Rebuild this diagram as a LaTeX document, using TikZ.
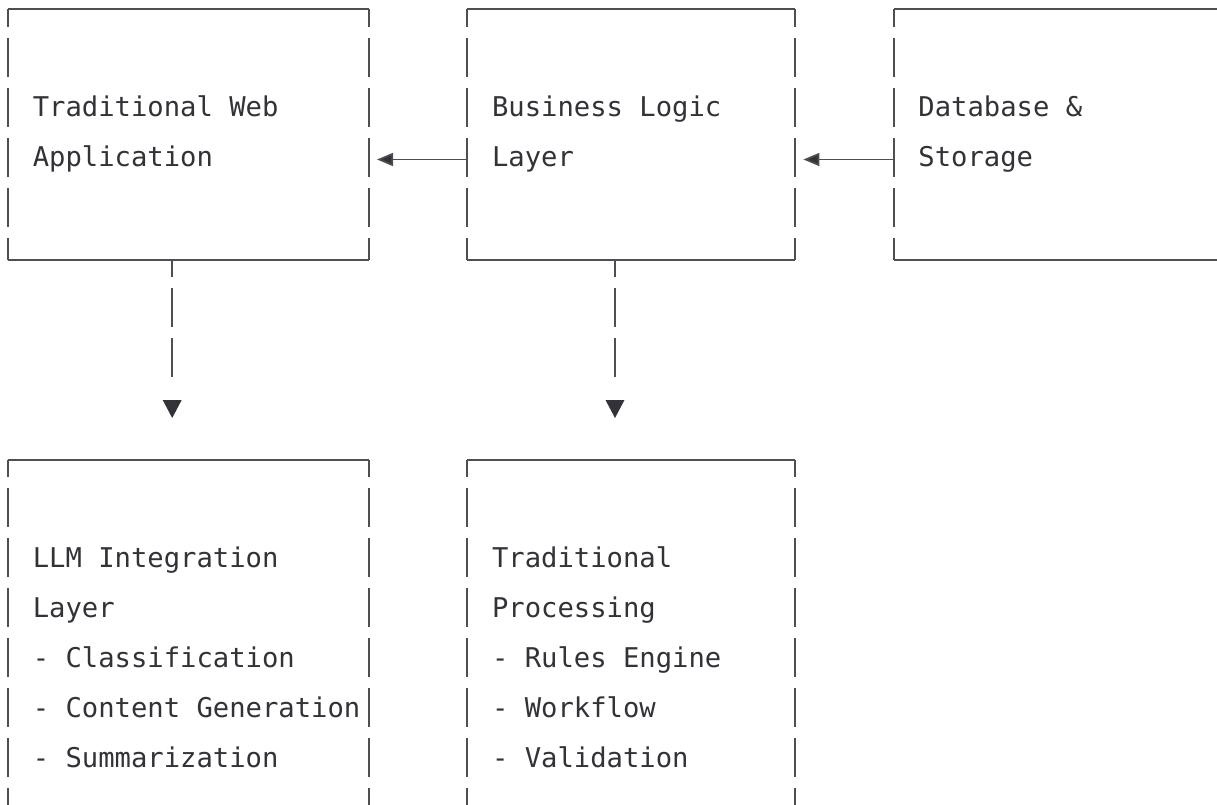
\documentclass[tikz,border=0pt]{standalone}
\usepackage{fontspec}
\setmonofont{DejaVu Sans Mono}
\usetikzlibrary{arrows.meta,calc}
\definecolor{linegray}{RGB}{78,78,84}
\definecolor{inkgray}{RGB}{50,50,56}
\tikzset{
  boxframe/.style={draw=none,inner sep=0pt,outer sep=0pt},
  hline/.style={draw=linegray,line width=2pt},
  vside/.style={draw=linegray,line width=2pt,dash pattern=on 39pt off 11pt,dash phase=21.5pt},
  txt/.style={anchor=base west,inner sep=0pt,outer sep=0pt,text=inkgray,
    font=\fontsize{27.2}{50}\selectfont\ttfamily},
  hconn/.style={draw=linegray,line width=1.7pt,shorten >=8pt,
    -{Triangle[length=16pt,width=13pt,fill=inkgray]}},
  vconn/.style={draw=linegray,line width=2pt,dash pattern=on 39pt off 11pt,dash phase=21.5pt},
  tri/.style={fill=inkgray}
}
\newcommand{\frameit}[1]{%
  \draw[hline] (#1.north west) -- (#1.north east);
  \draw[hline] (#1.south west) -- (#1.south east);
  \draw[vside] (#1.north west) -- (#1.south west);
  \draw[vside] (#1.north east) -- (#1.south east);
}
\begin{document}
\begin{tikzpicture}[x=1pt,y=-1pt]
\useasboundingbox (0,0) rectangle (1217,805);
\clip (0,0) rectangle (1217,805);
\fill[white] (0,0) rectangle (1217,805);
% boxes
\node[boxframe,minimum width=360.8pt,minimum height=250pt] (web) at (188.6,134.5) {};
\node[boxframe,minimum width=328pt,minimum height=250pt] (logic) at (631.4,134.5) {};
\node[boxframe,minimum width=356.2pt,minimum height=250pt] (store) at (1071.9,134.5) {};
\node[boxframe,minimum width=360.8pt,minimum height=380.5pt] (llm) at (188.6,649.75) {};
\node[boxframe,minimum width=328pt,minimum height=380.5pt] (proc) at (631.4,649.75) {};
\frameit{web}
\frameit{logic}
\frameit{store}
\frameit{llm}
\frameit{proc}
% texts
\node[txt] (web1) at (32.8,117) {Traditional Web};
\node[txt] (web2) at (32.8,167) {Application};
\node[txt] (log1) at (492,117) {Business Logic};
\node[txt] (log2) at (492,167) {Layer};
\node[txt] (sto1) at (918.4,117) {Database \&};
\node[txt] (sto2) at (918.4,167) {Storage};
\node[txt] (llm1) at (32.8,567) {LLM Integration};
\node[txt] (llm2) at (32.8,617) {Layer};
\node[txt] (llm3) at (32.8,667) {- Classification};
\node[txt] (llm4) at (32.8,717) {- Content Generation};
\node[txt] (llm5) at (32.8,767) {- Summarization};
\node[txt] (pro1) at (492,567) {Traditional};
\node[txt] (pro2) at (492,617) {Processing};
\node[txt] (pro3) at (492,667) {- Rules Engine};
\node[txt] (pro4) at (492,717) {- Workflow};
\node[txt] (pro5) at (492,767) {- Validation};
% horizontal connectors
\draw[hconn] ([yshift=-25pt]logic.west) -- ([yshift=-25pt]web.east);
\draw[hconn] ([yshift=-25pt]store.west) -- ([yshift=-25pt]logic.east);
% vertical connectors
\draw[vconn] ([xshift=-16.4pt]web.south) -- ++(0,117.5);
\fill[tri] ([xshift=-16.4pt]llm.north) ++(-9.5,-59.5) -- ++(19,0) -- ++(-9.5,18) -- cycle;
\draw[vconn] ([xshift=-16.4pt]logic.south) -- ++(0,117.5);
\fill[tri] ([xshift=-16.4pt]proc.north) ++(-9.5,-59.5) -- ++(19,0) -- ++(-9.5,18) -- cycle;
\end{tikzpicture}
\end{document}
